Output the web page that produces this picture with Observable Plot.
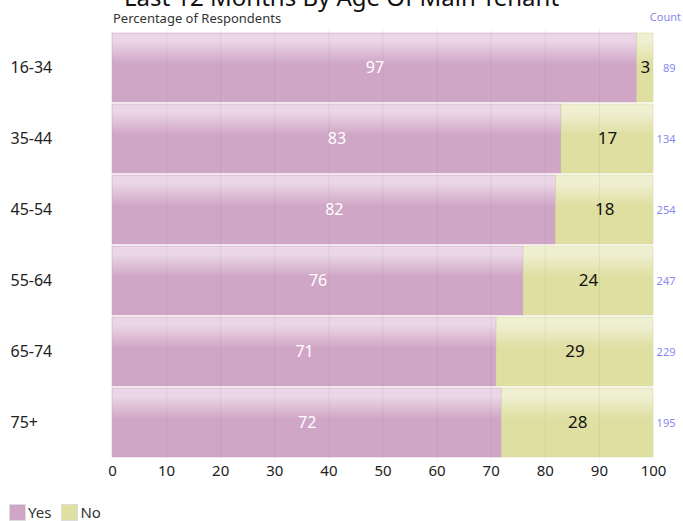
<!DOCTYPE html>
<html>
<head>
<meta charset="utf-8">
<script src="https://cdn.jsdelivr.net/npm/d3@7"></script>
<script src="https://cdn.jsdelivr.net/npm/@observablehq/plot@0.6"></script>
<style>
  body { margin: 0; background: white; font-family: "Noto Sans", sans-serif; overflow: hidden; }
  #wrap { position: relative; width: 683px; height: 521px; }
  #title { position: absolute; top: -18px; left: 0; width: 683px; text-align: center; font-size: 24px; line-height: 30px; color: #111; }
  #sub { position: absolute; top: 10px; left: 113px; font-size: 13px; line-height: 17px; color: #333; }
  #count { position: absolute; top: 10px; right: 2px; font-size: 11px; line-height: 14px; color: #8888ee; }
  #chart { position: absolute; top: 0; left: 0; }
  #legend { position: absolute; top: 502px; left: 9px; font-size: 15px; color: #333; display: flex; gap: 6px; }
  .item { display: flex; align-items: center; gap: 2px; margin-right: 4px; }
  .sw { width: 17px; height: 17px; border: 1px solid #ddd; box-sizing: border-box; }
</style>
</head>
<body>
<div id="wrap">
  <div id="chart"></div>
  <div id="title">Last 12 Months By Age Of Main Tenant</div>
  <div id="sub">Percentage of Respondents</div>
  <div id="count">Count</div>
  <div id="legend"></div>
</div>
<script>
const ages = ["16-34", "35-44", "45-54", "55-64", "65-74", "75+"];
const yesValues = [97, 83, 82, 76, 71, 72];
const noValues = [3, 17, 18, 24, 29, 28];
const counts = [89, 134, 254, 247, 229, 195];
const xTicks = [0, 10, 20, 30, 40, 50, 60, 70, 80, 90, 100];
const seriesNames = ["Yes", "No"];
const seriesColors = ["#d0a6c6", "#dfdfa2"];

const rows = ages.map((a, i) => ({age: a, yes: yesValues[i], no: noValues[i], count: counts[i]}));
const segs = [];
rows.forEach(r => {
  segs.push({age: r.age, series: "Yes", x1: 0, x2: r.yes, v: r.yes});
  segs.push({age: r.age, series: "No", x1: r.yes, x2: r.yes + r.no, v: r.no});
});

const plot = Plot.plot({
  width: 683,
  height: 492,
  marginTop: 28,
  marginBottom: 30,
  marginLeft: 112,
  marginRight: 30,
  style: {fontFamily: "Noto Sans, sans-serif", background: "white"},
  x: {domain: [0, 100], ticks: xTicks, tickSize: 0, tickPadding: 2, label: null},
  y: {domain: ages, label: null, padding: 0.03, axis: null},
  marks: [
    Plot.barX(segs, {
      y: "age", x1: "x1", x2: "x2",
      fill: d => d.series === "Yes" ? "url(#gYes)" : "url(#gNo)",
      stroke: d => d.series === "Yes" ? "#c9a0bf" : "#d6d69c", strokeWidth: 0.5
    }),
    Plot.ruleX(xTicks.slice(1, -1), {stroke: "#000", strokeOpacity: 0.05}),
    Plot.text(segs.filter(d => d.series === "Yes"), {
      y: "age", x: d => (d.x1 + d.x2) / 2, text: d => String(d.v),
      fill: "white", fontSize: 16
    }),
    Plot.text(segs.filter(d => d.series === "No"), {
      y: "age", x: d => (d.x1 + d.x2) / 2, text: d => String(d.v),
      fill: "#111", fontSize: 17
    }),
    Plot.text(rows, {y: "age", text: "age", frameAnchor: "left", dx: -102, textAnchor: "start", fill: "#222", fontSize: 16}),
    Plot.text(rows, {y: "age", text: d => String(d.count), frameAnchor: "right", dx: 22, fill: "#8888ee", fontSize: 11}),
    Plot.axisX({ticks: xTicks, tickSize: 0, tickPadding: 3, fontSize: 15, fill: "#222", label: null})
  ]
});

// gradients for bar shading
const ns = "http://www.w3.org/2000/svg";
const defs = document.createElementNS(ns, "defs");
function grad(id, light, solid) {
  const g = document.createElementNS(ns, "linearGradient");
  g.setAttribute("id", id);
  g.setAttribute("x1", "0"); g.setAttribute("y1", "0");
  g.setAttribute("x2", "0"); g.setAttribute("y2", "1");
  [[0, light], [0.12, light], [0.45, solid], [1, solid]].forEach(([o, c]) => {
    const s = document.createElementNS(ns, "stop");
    s.setAttribute("offset", o); s.setAttribute("stop-color", c);
    g.appendChild(s);
  });
  defs.appendChild(g);
}
grad("gYes", "#ead6e6", seriesColors[0]);
grad("gNo", "#efefd2", seriesColors[1]);
plot.insertBefore(defs, plot.firstChild);
document.getElementById("chart").appendChild(plot);

const leg = document.getElementById("legend");
seriesNames.forEach((n, i) => {
  const it = document.createElement("div"); it.className = "item";
  const sw = document.createElement("div"); sw.className = "sw"; sw.style.background = seriesColors[i];
  const t = document.createElement("span"); t.textContent = n;
  it.appendChild(sw); it.appendChild(t); leg.appendChild(it);
});
</script>
</body>
</html>
